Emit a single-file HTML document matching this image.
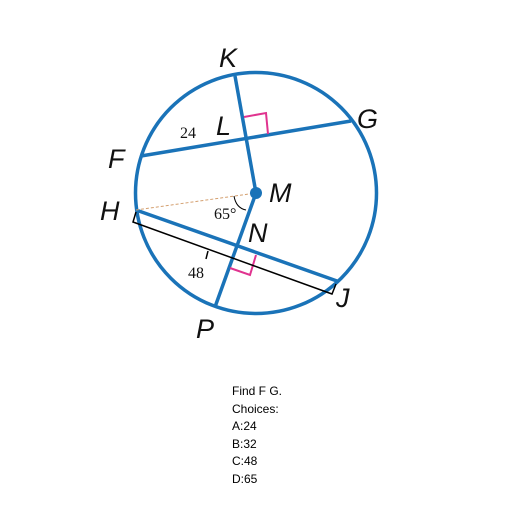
<!DOCTYPE html>
<html><head><style>
body{margin:0;background:#fff;width:512px;height:512px;overflow:hidden}
.q{position:absolute;left:232px;top:383px;font:12px "Liberation Sans",sans-serif;line-height:17.5px;color:#000}
</style></head><body>
<svg width="512" height="512" style="position:absolute;left:0;top:0">
<g fill="none" stroke="#1a73b8" stroke-width="3.5">
<circle cx="256" cy="193" r="120.5"/>
<line x1="141" y1="156" x2="351" y2="121"/>
<line x1="136" y1="210" x2="337" y2="281"/>
<line x1="235" y1="76" x2="256" y2="193"/>
<line x1="256" y1="193" x2="215" y2="307"/>
</g>
<line x1="136" y1="210" x2="256" y2="193" stroke="#d4a070" stroke-width="1" stroke-dasharray="3,2"/>
<circle cx="256" cy="193" r="6" fill="#1a73b8"/>
<polyline points="244,117 266,113 268,134" fill="none" stroke="#e0338f" stroke-width="2"/>
<polyline points="230,268 250,275 256,255" fill="none" stroke="#e0338f" stroke-width="2"/>
<polyline points="136,212 133,222 332,294 336,284" fill="none" stroke="#000" stroke-width="1.5"/>
<line x1="208" y1="251" x2="206" y2="259" stroke="#000" stroke-width="1.5"/>
<path d="M234,196 Q236,208 246,210" fill="none" stroke="#000" stroke-width="1"/>
<g font-family="Liberation Sans,sans-serif" font-style="italic" font-size="27" fill="#111">
<text x="219" y="67">K</text><text x="216" y="135">L</text><text x="357" y="128">G</text>
<text x="108" y="168">F</text><text x="269" y="202">M</text><text x="100" y="220">H</text>
<text x="248" y="242">N</text><text x="336" y="307">J</text><text x="196" y="338">P</text>
</g>
<g font-family="Liberation Serif,serif" font-size="16" fill="#111">
<text x="180" y="138">24</text><text x="188" y="278">48</text><text x="214" y="219">65°</text>
</g>
</svg>
<div class="q">Find F G.<br>Choices:<br>A:24<br>B:32<br>C:48<br>D:65</div>
</body></html>
